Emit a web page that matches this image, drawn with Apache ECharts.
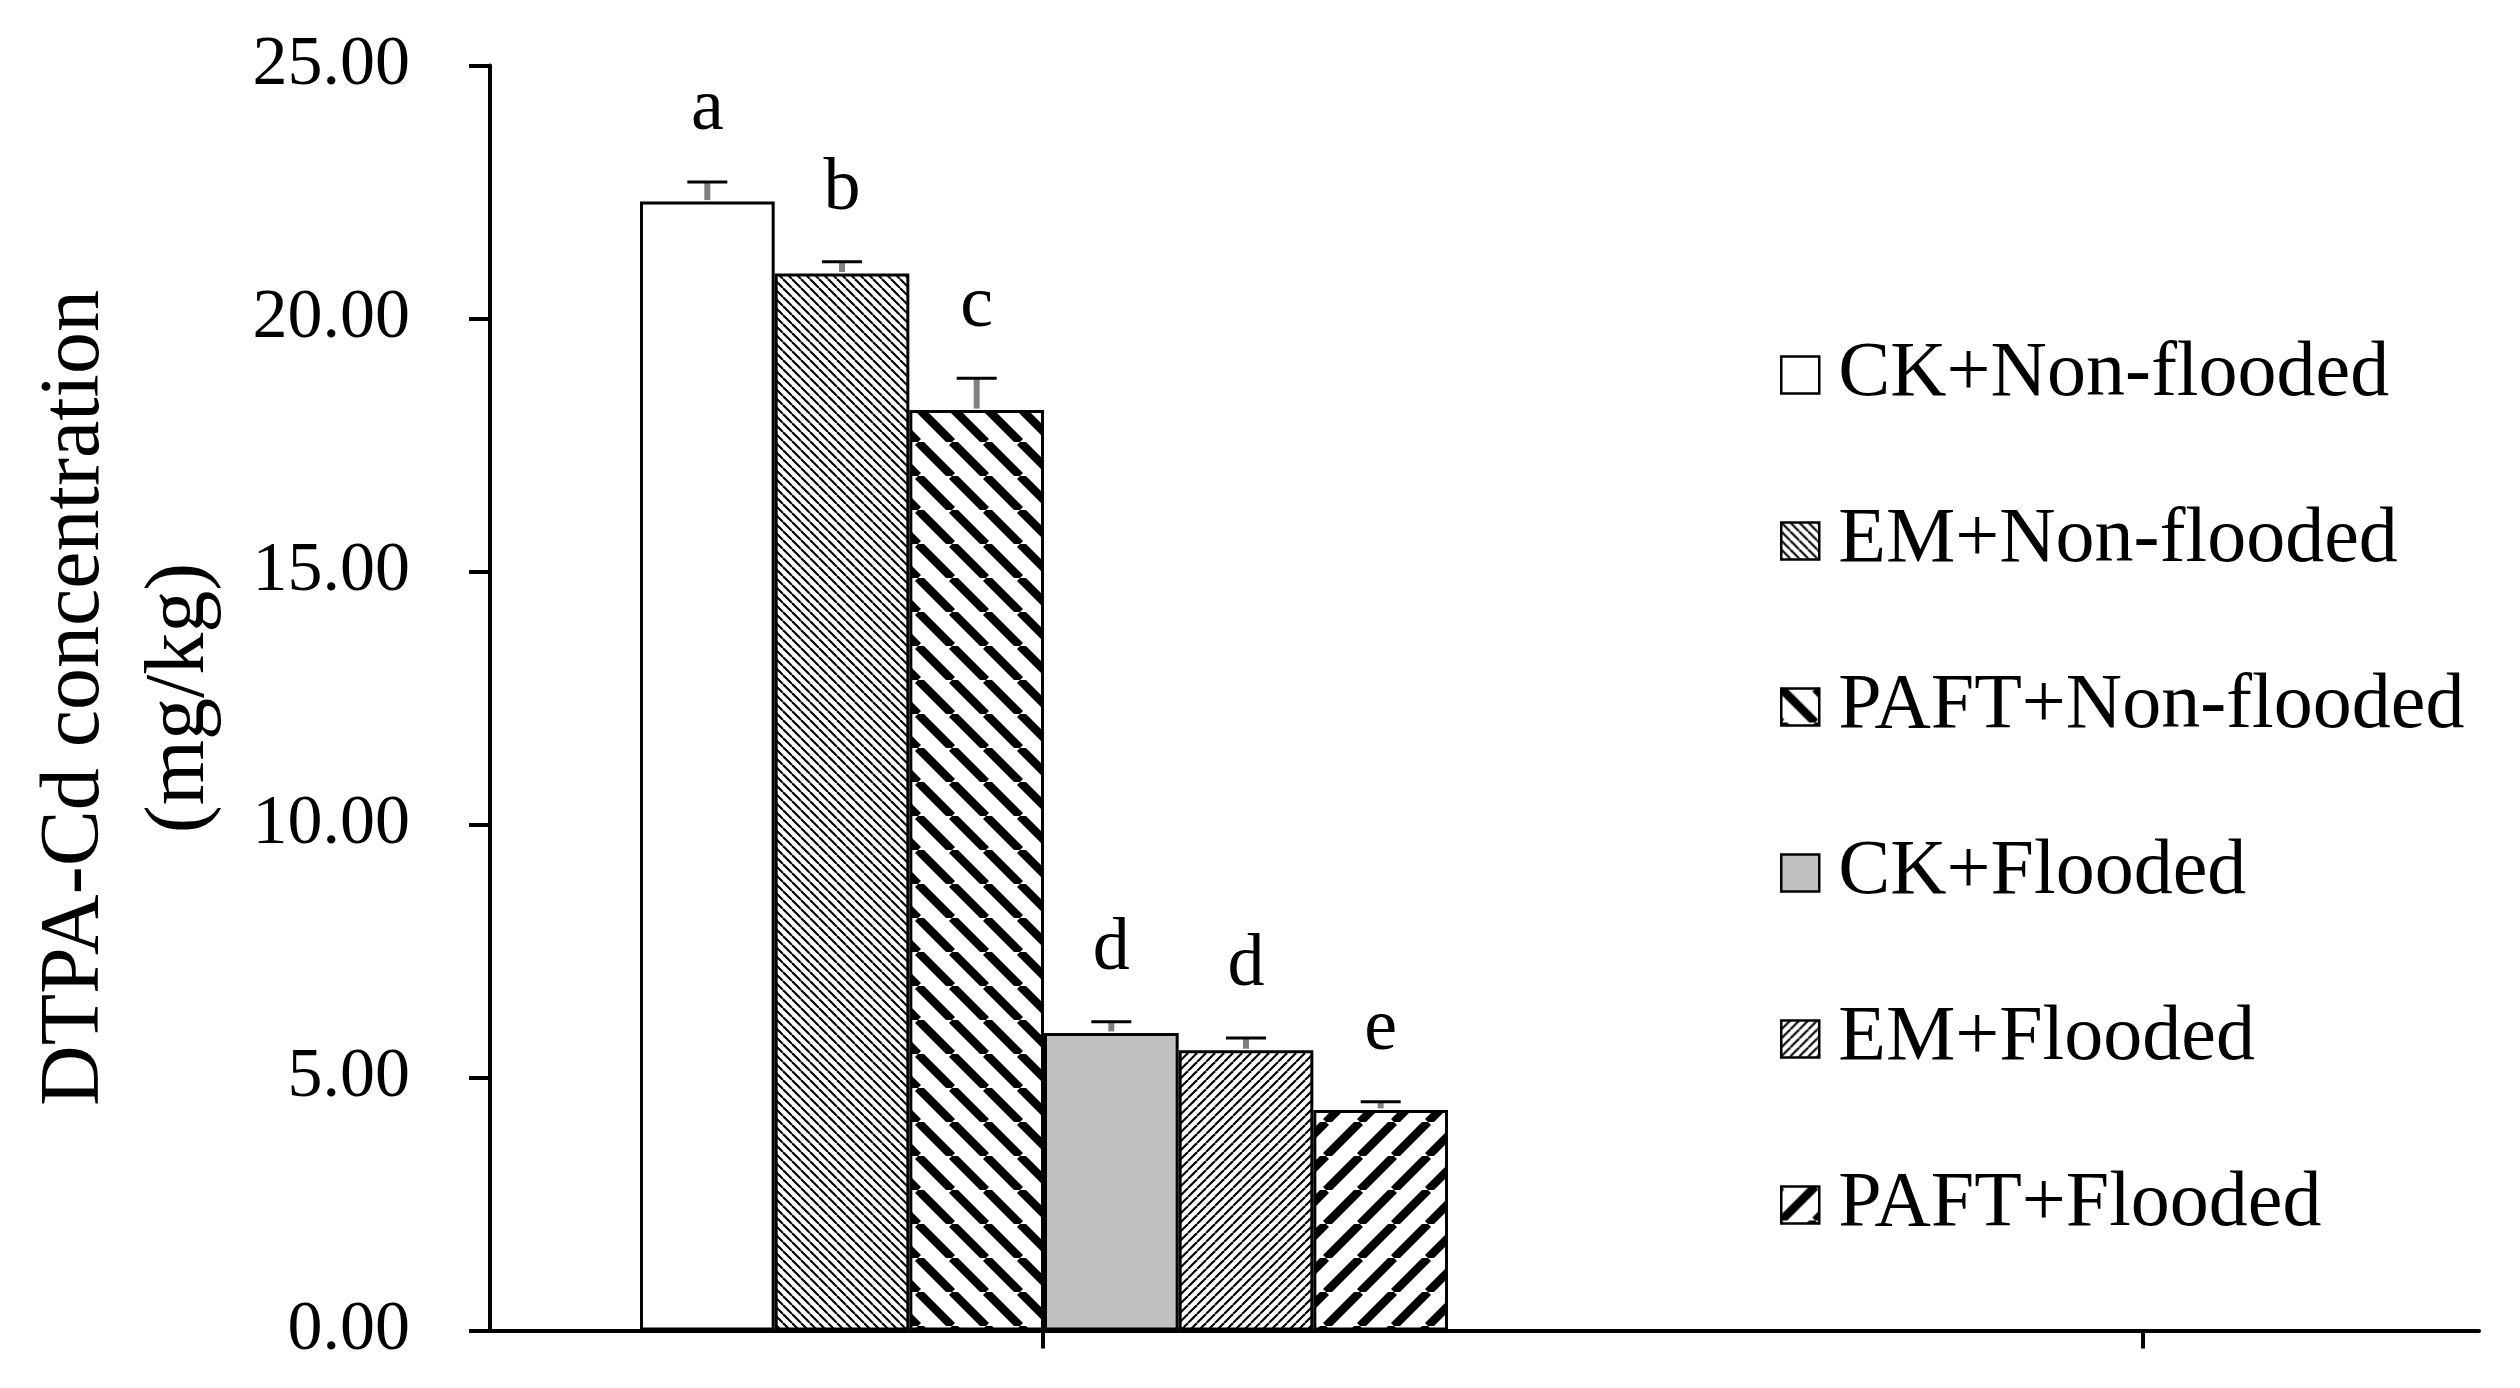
<!DOCTYPE html>
<html>
<head>
<meta charset="utf-8">
<title>DTPA-Cd concentration</title>
<script src="https://cdn.jsdelivr.net/npm/echarts@6.0.0/dist/echarts.min.js"></script>
<style>
  html, body { margin: 0; padding: 0; background: #fff; }
  #chart { width: 2520px; height: 1388px; }
</style>
</head>
<body>
<div id="chart"></div>
<script>
// values
const treatments = ['CK+Non-flooded', 'EM+Non-flooded', 'PAFT+Non-flooded', 'CK+Flooded', 'EM+Flooded', 'PAFT+Flooded'];
const means = [22.31, 20.89, 18.19, 5.88, 5.54, 4.36];
const errors = [0.39, 0.23, 0.63, 0.22, 0.24, 0.16];
const letters = ['a', 'b', 'c', 'd', 'd', 'e'];
const yMin = 0;
const yMax = 25;
const yStep = 5;

const FONT = '"Liberation Serif", "Times New Roman", serif';

// diagonal hatch tile, dir '\\' or '/'
function hatch(period, thick, dir) {
  const c = document.createElement('canvas');
  c.width = period;
  c.height = period;
  const ctx = c.getContext('2d');
  ctx.fillStyle = '#fff';
  ctx.fillRect(0, 0, period, period);
  ctx.strokeStyle = '#000';
  ctx.lineWidth = thick / Math.SQRT2;
  for (let k = -1; k <= 1; k++) {
    ctx.beginPath();
    if (dir === '\\') {
      ctx.moveTo(k * period, 0);
      ctx.lineTo(k * period + period, period);
    } else {
      ctx.moveTo(k * period, period);
      ctx.lineTo(k * period + period, 0);
    }
    ctx.stroke();
  }
  return { image: c, repeat: 'repeat' };
}

const fills = [
  '#ffffff',
  hatch(9, 3, '\\'),
  hatch(34, 12, '\\'),
  '#c0c0c0',
  hatch(9, 3, '/'),
  hatch(34, 12, '/')
];

const barSeries = treatments.map((name, i) => ({
  name: name,
  type: 'bar',
  xAxisIndex: 1,
  yAxisIndex: 1,
  stack: 'all',
  barCategoryGap: '0%',
  data: treatments.map((_, j) => (j === i ? means[i] : '-')),
  itemStyle: { color: fills[i], borderColor: '#000', borderWidth: 3 },
  emphasis: { disabled: true }
}));

const errSeries = {
  type: 'custom',
  xAxisIndex: 1,
  yAxisIndex: 1,
  z: 10,
  silent: true,
  data: treatments.map((_, i) => [i, means[i], errors[i]]),
  renderItem: function (params, api) {
    const i = api.value(0);
    const v = api.value(1);
    const e = api.value(2);
    const base = api.coord([i, v]);
    const cap = api.coord([i, v + e]);
    return {
      type: 'group',
      children: [
        { type: 'line', shape: { x1: base[0], y1: base[1] - 1.5, x2: base[0], y2: cap[1] },
          style: { stroke: '#808080', lineWidth: 6 } },
        { type: 'line', shape: { x1: cap[0] - 20, y1: cap[1], x2: cap[0] + 20, y2: cap[1] },
          style: { stroke: '#000', lineWidth: 3 } },
        { type: 'text', x: cap[0], y: cap[1] - 35,
          style: { text: letters[params.dataIndex], fill: '#000', font: '74px ' + FONT,
                   align: 'center', verticalAlign: 'bottom' } }
      ]
    };
  }
};

const option = {
  backgroundColor: '#fff',
  animation: false,
  grid: [
    { left: 490, top: 65.5, width: 1989, height: 1265, outerBoundsMode: 'none' },
    { left: 640, top: 65.5, width: 808, height: 1265, outerBoundsMode: 'none' }
  ],
  xAxis: [
    {
      gridIndex: 0,
      type: 'value',
      min: 0,
      max: 100,
      axisLine: { show: true, onZero: false, lineStyle: { color: '#000', width: 4 } },
      axisTick: { show: true, length: 18, customValues: [27.8, 83.1], lineStyle: { color: '#000', width: 4 } },
      axisLabel: { show: false },
      splitLine: { show: false }
    },
    {
      gridIndex: 1,
      type: 'category',
      data: treatments,
      show: false
    }
  ],
  yAxis: [
    {
      gridIndex: 0,
      type: 'value',
      min: yMin,
      max: yMax,
      interval: yStep,
      name: 'DTPA-Cd concentration\n(mg/kg)',
      nameLocation: 'middle',
      nameRotate: 90,
      nameGap: 257,
      nameTextStyle: { fontFamily: FONT, fontSize: 84, lineHeight: 105, color: '#000' },
      axisLine: { show: true, onZero: false, lineStyle: { color: '#000', width: 4 } },
      axisTick: { show: true, length: 21, lineStyle: { color: '#000', width: 4 } },
      axisLabel: {
        margin: 80,
        fontFamily: FONT,
        fontSize: 70,
        color: '#000',
        formatter: v => v.toFixed(2)
      },
      splitLine: { show: false }
    },
    {
      gridIndex: 1,
      type: 'value',
      min: yMin,
      max: yMax,
      show: false
    }
  ],
  legend: {
    data: treatments,
    orient: 'vertical',
    left: 1775,
    top: 330,
    icon: 'rect',
    itemWidth: 38,
    itemHeight: 37,
    itemGap: 86,
    selectedMode: false,
    itemStyle: { borderWidth: 2.5, borderColor: '#000' },
    textStyle: { fontFamily: FONT, fontSize: 78, lineHeight: 80, color: '#000', padding: [0, 0, 0, 14] }
  },
  series: barSeries.concat([errSeries])
};

echarts.init(document.getElementById('chart')).setOption(option);
</script>
</body>
</html>
